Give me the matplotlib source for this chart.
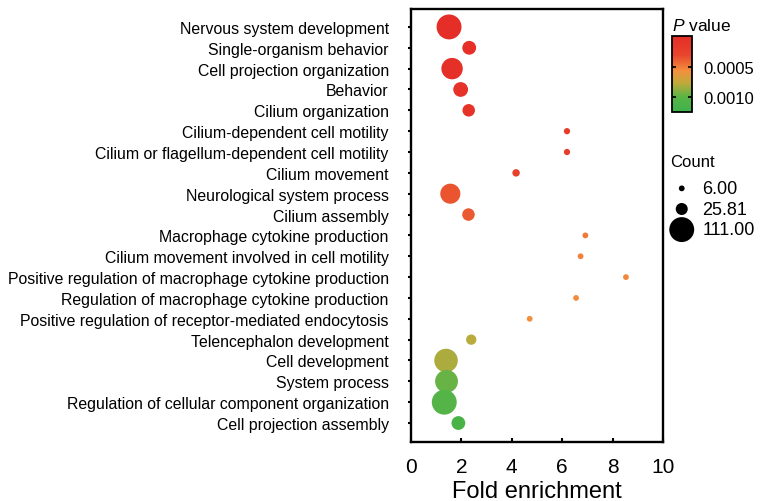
import numpy as np
import matplotlib
matplotlib.use("Agg")
import matplotlib.pyplot as plt
from matplotlib.colors import LinearSegmentedColormap, Normalize

plt.rcParams['font.family'] = ['Liberation Sans', 'DejaVu Sans']
plt.rcParams['mathtext.fontset'] = 'custom'
plt.rcParams['mathtext.it'] = 'Liberation Sans:italic'
plt.rcParams['mathtext.rm'] = 'Liberation Sans'

# GO terms, top to bottom
terms = [
    "Nervous system development",
    "Single-organism behavior",
    "Cell projection organization",
    "Behavior",
    "Cilium organization",
    "Cilium-dependent cell motility",
    "Cilium or flagellum-dependent cell motility",
    "Cilium movement",
    "Neurological system process",
    "Cilium assembly",
    "Macrophage cytokine production",
    "Cilium movement involved in cell motility",
    "Positive regulation of macrophage cytokine production",
    "Regulation of macrophage cytokine production",
    "Positive regulation of receptor-mediated endocytosis",
    "Telencephalon development",
    "Cell development",
    "System process",
    "Regulation of cellular component organization",
    "Cell projection assembly",
]
fold = [1.51, 2.31, 1.63, 1.97, 2.29, 6.19, 6.19, 4.17, 1.56, 2.28,
        6.92, 6.73, 8.53, 6.55, 4.71, 2.39, 1.39, 1.41, 1.32, 1.88]
count = [111, 34, 82, 39, 28, 7, 7, 10, 72, 28,
         6, 6, 6, 6, 6, 19, 99, 93, 111, 34]
pval = [0.00001, 0.00003, 0.00004, 0.00006, 0.00008, 0.00018, 0.00019, 0.00026,
        0.00036, 0.00038, 0.00049, 0.00052, 0.00054, 0.00055, 0.00056,
        0.00078, 0.00081, 0.00096, 0.00104, 0.00112]
legend_counts = [6.00, 25.81, 111.00]

cmap = LinearSegmentedColormap.from_list(
    "rog", [(0.0, "#e52d27"), (0.25, "#e8452c"), (0.46, "#f3913e"),
            (0.62, "#bfaa3b"), (0.80, "#5ab446"), (1.0, "#3cb34a")])
norm = Normalize(vmin=0, vmax=0.00124)

def size(c):
    return np.asarray(c) * 2.9

fig = plt.figure(figsize=(7.65, 5.02), dpi=100)
ax = fig.add_axes([411 / 765, 1 - 443 / 502, 252 / 765, 433 / 502])

y = np.arange(len(terms))
sc = ax.scatter(fold, y, s=size(count), c=pval, cmap=cmap, norm=norm,
                edgecolors='none', zorder=3)

ax.set_xlim(0, 10)
ax.set_ylim(len(terms) - 1 + 0.91, -0.86)
ax.set_yticks(y)
ax.set_yticklabels(terms, fontsize=11.4)
ax.set_xticks([0, 2, 4, 6, 8, 10])
ax.tick_params(axis='x', direction='in', length=3, width=1.5, labelsize=15, pad=11)
ax.tick_params(axis='y', direction='out', length=2, width=1.5, pad=14)
ax.set_xlabel("Fold enrichment", fontsize=17, labelpad=3)
for sp in ax.spines.values():
    sp.set_linewidth(1.7)

# colorbar for P value
cax = fig.add_axes([672 / 765, 1 - 113 / 502, 20 / 765, 76 / 502])
cb = fig.colorbar(sc, cax=cax, ticks=[0.0005, 0.0010])
cb.ax.invert_yaxis()
cb.ax.set_yticklabels(["0.0005", "0.0010"], fontsize=12)
cb.ax.tick_params(direction='in', length=3, width=1.2, left=True, right=True, pad=8)
cb.outline.set_linewidth(1.3)
cax.set_title(r"$\mathit{P}$ value", fontsize=12.5, loc='left', pad=4)

# size legend
handles = [ax.scatter([], [], s=size(c), color='black', edgecolors='none')
           for c in legend_counts]
leg = fig.legend(handles, [f"{c:.2f}" for c in legend_counts], title="Count",
                 loc='upper left', bbox_to_anchor=(670 / 765, 1 - 155 / 502),
                 frameon=False, fontsize=13, title_fontsize=12,
                 handletextpad=0.5, labelspacing=0.2, borderpad=0,
                 borderaxespad=0, handlelength=1.3)
leg._legend_box.align = "left"
leg._legend_box.sep = 8

fig.savefig("out.png", dpi=100)
